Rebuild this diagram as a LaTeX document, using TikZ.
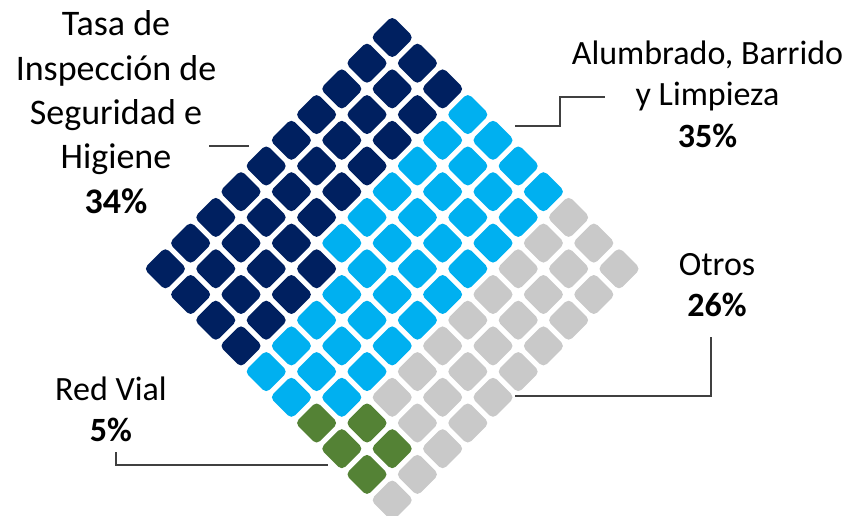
\documentclass[tikz,border=0pt]{standalone}
\usepackage{fontspec}
\setmainfont{Carlito}
\usepackage{xcolor}
\definecolor{tasacol}{RGB}{0,32,96}
\definecolor{alumcol}{RGB}{0,176,240}
\definecolor{otroscol}{RGB}{201,201,201}
\definecolor{vialcol}{RGB}{84,130,53}
\definecolor{leadcol}{RGB}{64,64,64}
\newcommand{\bigtext}{\fontsize{36}{44.3}\selectfont}
\newcommand{\smalltext}{\fontsize{34}{41.2}\selectfont}

\begin{document}
\begin{tikzpicture}[x=1pt,y=-1pt,
  cell/.style={rectangle, minimum size=30.5pt, inner sep=0pt, rounded corners=5pt, rotate=45},
  lead/.style={draw=leadcol, line width=1.4pt},
  tag/.style={align=center, inner sep=0pt, anchor=base}]
  \useasboundingbox (0,0) rectangle (853,516);

  % Waffle grid, turned on its corner
  \def\dx{25.2}
  \def\dy{25.7}
  \foreach \row [count=\j from 0] in {
    {tasacol,tasacol,tasacol,alumcol,alumcol,alumcol,alumcol,otroscol,otroscol,otroscol},
    {tasacol,tasacol,tasacol,alumcol,alumcol,alumcol,alumcol,otroscol,otroscol,otroscol},
    {tasacol,tasacol,tasacol,alumcol,alumcol,alumcol,alumcol,otroscol,otroscol,otroscol},
    {tasacol,tasacol,tasacol,alumcol,alumcol,alumcol,alumcol,otroscol,otroscol,otroscol},
    {tasacol,tasacol,tasacol,alumcol,alumcol,alumcol,alumcol,otroscol,otroscol,otroscol},
    {tasacol,tasacol,tasacol,alumcol,alumcol,alumcol,alumcol,otroscol,otroscol,otroscol},
    {tasacol,tasacol,tasacol,tasacol,alumcol,alumcol,alumcol,otroscol,otroscol,otroscol},
    {tasacol,tasacol,tasacol,tasacol,alumcol,alumcol,alumcol,otroscol,otroscol,otroscol},
    {tasacol,tasacol,tasacol,tasacol,alumcol,alumcol,alumcol,vialcol,vialcol,otroscol},
    {tasacol,tasacol,tasacol,tasacol,alumcol,alumcol,vialcol,vialcol,vialcol,otroscol}}{
    \foreach \col [count=\i from 0] in \row
      \node[cell, fill=\col] (c-\i-\j) at ({392.2+(\i-\j)*\dx}, {37.5+(\i+\j)*\dy}) {};
  }

  % Labels (base = last line)
  \node[tag, font=\bigtext] (tasa) at (116,213)
    {Tasa de\\Inspección de\\Seguridad e\\Higiene\\\textbf{34\%}};
  \node[tag, font=\smalltext] (alum) at (707.5,147)
    {Alumbrado, Barrido\\y Limpieza\\\textbf{35\%}};
  \node[tag, font=\smalltext] (otros) at (717,316.7) {Otros\\\textbf{26\%}};
  \node[tag, font=\smalltext] (vial) at (111,441.7) {Red Vial\\\textbf{5\%}};

  % Leader lines
  \coordinate (tasa-a) at (209,146);
  \coordinate (tasa-b) at (249,146);
  \draw[lead] (tasa-a) -- (tasa-b);
  \coordinate (alum-a) at (515,126);
  \coordinate (alum-b) at (605,97);
  \draw[lead] (alum-a) -- ++(45,0) |- (alum-b);
  \coordinate (otros-a) at (515,396);
  \coordinate (otros-b) at (711,337);
  \draw[lead] (otros-a) -| (otros-b);
  \coordinate (vial-a) at (328,465);
  \coordinate (vial-b) at (116,452);
  \draw[lead] (vial-b) |- (vial-a);
\end{tikzpicture}
\end{document}
